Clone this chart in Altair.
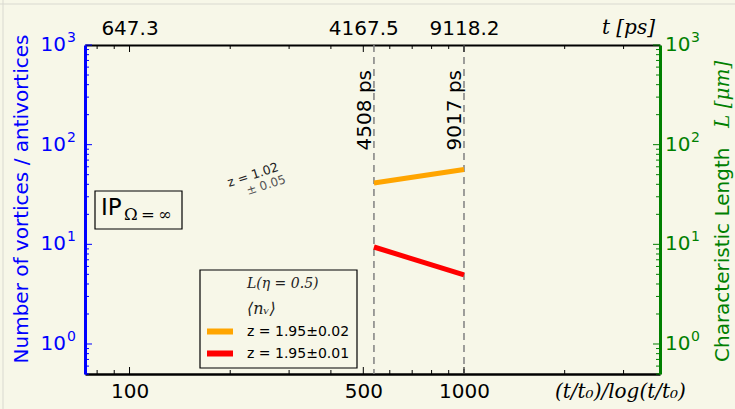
import altair as alt
import pandas as pd

# Scaled time (t/t0)/log(t/t0) of the two marked instants
t_marks = [538, 1000]
t_mark_labels = ["4508 ps", "9017 ps"]

# Power-law segments between the two instants
L_values = [41.3, 56.4]    # characteristic length L(eta=0.5)
n_values = [9.4, 4.93]     # mean vortex number <n_v>
series_names = ["z = 1.95±0.02", "z = 1.95±0.01"]
series_colors = ["#FFA500", "#FF0000"]

# Axis ticks
x_major = [100, 500, 1000]
x_major_labels = ["100", "500", "1000"]
x_top_labels = ["647.3", "4167.5", "9118.2"]
x_minor = [80, 90, 200, 300, 400, 600, 700, 800, 900, 2000, 3000]
y_major = [1, 10, 100, 1000]
y_exponents = ["0", "1", "2", "3"]
y_minor = [m * 10 ** k for k in (-1, 0, 1, 2) for m in range(2, 10) if m * 10 ** k >= 0.5]

X_DOMAIN = [73.6, 3855]
Y_DOMAIN = [0.5, 1000]
W, H = 575, 329
BG = "#F7F7E8"
BLUE = "#0000FF"
GREEN = "#008000"
SANS = "DejaVu Sans"
SERIF = "DejaVu Serif"

xs = alt.Scale(type="log", domain=X_DOMAIN, nice=False)
ys = alt.Scale(type="log", domain=Y_DOMAIN, nice=False)


def label_expr(values, labels):
    expr = "''"
    for v, lab in reversed(list(zip(values, labels))):
        expr = f"abs(datum.value - {v}) < {v} * 1e-6 ? '{lab}' : ({expr})"
    return expr


lines_df = pd.DataFrame({
    "t": t_marks + t_marks,
    "v": L_values + n_values,
    "series": [series_names[0]] * 2 + [series_names[1]] * 2,
})
marks_df = pd.DataFrame({"t": t_marks, "label": t_mark_labels})
ylab_df = pd.DataFrame({"v": y_major, "base": ["10"] * len(y_major), "exp": y_exponents})

common_axis = dict(ticks=False, grid=False, title=None, labelFontSize=20,
                   labelFont=SANS, labelOverlap=False, labelFlush=False)

lines = alt.Chart(lines_df).mark_line(strokeWidth=5, strokeCap="butt").encode(
    x=alt.X("t:Q", scale=xs, axis=alt.Axis(
        orient="bottom", values=x_major, labelExpr=label_expr(x_major, x_major_labels),
        domainColor="black", domainWidth=2.5, labelColor="black", labelPadding=7,
        **common_axis)),
    y=alt.Y("v:Q", scale=ys, axis=alt.Axis(
        orient="left", values=y_major, labels=False,
        domainColor=BLUE, domainWidth=3, ticks=False, grid=False, title=None)),
    color=alt.Color("series:N", scale=alt.Scale(domain=series_names, range=series_colors),
                    legend=None),
)

# Invisible layer carrying the top (physical time) and right (length) axes
twin = alt.Chart(lines_df).mark_point(opacity=0).encode(
    x=alt.X("t:Q", scale=xs, axis=alt.Axis(
        orient="top", values=x_major, labelExpr=label_expr(x_major, x_top_labels),
        domainColor="black", domainWidth=2, labelColor="black", labelPadding=7,
        **common_axis)),
    y=alt.Y("v:Q", scale=ys, axis=alt.Axis(
        orient="right", values=y_major, labels=False,
        domainColor=GREEN, domainWidth=3, ticks=False, grid=False, title=None)),
)


# Power-of-ten labels on both vertical axes: "10" plus a raised exponent
def ylabels(x_base, x_exp, align_base, color):
    base = alt.Chart(ylab_df).mark_text(
        font=SANS, fontSize=20, color=color, align=align_base, baseline="middle"
    ).encode(y=alt.Y("v:Q", scale=ys, axis=None), x=alt.value(x_base), text="base:N")
    exp = alt.Chart(ylab_df).mark_text(
        font=SANS, fontSize=14, color=color, align="left", baseline="middle", dy=-7
    ).encode(y=alt.Y("v:Q", scale=ys, axis=None), x=alt.value(x_exp), text="exp:N")
    return [base, exp]


yl = ylabels(-19, -18, "right", BLUE) + ylabels(W + 5, W + 31, "left", GREEN)


# Inward tick marks
def xticks(values, y0, y1, color="black"):
    return alt.Chart(pd.DataFrame({"v": values})).mark_rule(color=color, strokeWidth=1).encode(
        x=alt.X("v:Q", scale=xs, axis=None), y=alt.value(y0), y2=alt.value(y1))


def yticks(values, x0, x1, color):
    return alt.Chart(pd.DataFrame({"v": values})).mark_rule(color=color, strokeWidth=1).encode(
        y=alt.Y("v:Q", scale=ys, axis=None), x=alt.value(x0), x2=alt.value(x1))


ticks = [
    xticks(x_major, H, H - 7), xticks(x_minor, H, H - 4),
    xticks(x_major, 0, 7), xticks(x_minor, 0, 4),
    yticks(y_major, 0, 7, BLUE), yticks(y_minor, 0, 4, BLUE),
    yticks(y_major, W, W - 7, GREEN), yticks(y_minor, W, W - 4, GREEN),
]

dashed = alt.Chart(marks_df).mark_rule(color="#808080", strokeDash=[7, 5], strokeWidth=1.5).encode(
    x=alt.X("t:Q", scale=xs, axis=None))

mark_text = alt.Chart(marks_df).mark_text(
    angle=270, align="right", baseline="bottom", fontSize=20, font=SANS, color="black", dy=1
).encode(x=alt.X("t:Q", scale=xs, axis=None), y=alt.value(25), text="label:N")


def txt(s, x, y, **kw):
    return alt.Chart(pd.DataFrame({"s": [s]})).mark_text(**kw).encode(
        text="s:N", x=alt.value(x), y=alt.value(y))


def box(x0, y0, x1, y1):
    return alt.Chart(pd.DataFrame({"a": [0]})).mark_rect(
        fill=BG, stroke="black", strokeWidth=1.2).encode(
        x=alt.value(x0), x2=alt.value(x1), y=alt.value(y0), y2=alt.value(y1))


def swatch(color, x0, x1, y):
    return alt.Chart(pd.DataFrame({"a": [0]})).mark_rule(
        color=color, strokeWidth=6, strokeCap="butt").encode(
        x=alt.value(x0), x2=alt.value(x1), y=alt.value(y))


legend = [
    box(115, 225, 272, 323),
    txt("L(η = 0.5)", 162, 239, font=SERIF, fontStyle="italic", fontSize=14,
        align="left", baseline="middle", color="#222222"),
    txt("⟨nᵥ⟩", 162, 264, font=SERIF, fontStyle="italic", fontSize=16,
        align="left", baseline="middle", color="#222222"),
    swatch(series_colors[0], 122, 148, 286.5),
    swatch(series_colors[1], 122, 148, 308.5),
    txt(series_names[0], 162, 286.5, font=SANS, fontSize=14, align="left", baseline="middle"),
    txt(series_names[1], 162, 308.5, font=SANS, fontSize=14, align="left", baseline="middle"),
]

ip_box = [
    box(10, 146, 97, 184),
    txt("IP", 16, 170, font=SANS, fontSize=23, align="left", baseline="alphabetic"),
    txt("Ω\u2009=\u2009∞", 39, 175, font=SERIF, fontSize=16.5, align="left", baseline="alphabetic"),
]

fit_note = [
    txt("z = 1.02", 168, 130, font=SANS, fontSize=12.5, angle=342, color="#222222"),
    txt("± 0.05", 181, 140, font=SANS, fontSize=12, angle=342, color="#555555"),
]

titles = [
    txt("Number  of vortices / antivortices", -63, 154, font=SANS, fontSize=20,
        angle=270, color=BLUE, align="center", baseline="middle"),
    txt("Characteristic Length", 638, 317, font=SANS, fontSize=20, angle=270,
        color=GREEN, align="left", baseline="middle"),
    txt("L  [μm]", 638, 83, font=SERIF, fontStyle="italic", fontSize=20, angle=270,
        color=GREEN, align="left", baseline="middle"),
    txt("t [ps]", 570, -17, font=SERIF, fontStyle="italic", fontSize=20,
        align="right", baseline="middle"),
    txt("(t/t₀)/log(t/t₀)", 470, 347, font=SERIF, fontStyle="italic", fontSize=20,
        align="left", baseline="middle"),
]

frame = [
    alt.Chart(pd.DataFrame({"a": [0]})).mark_rule(color="#D9D9D0", strokeWidth=1).encode(
        x=alt.value(-82), y=alt.value(-45), y2=alt.value(H + 35)),
    alt.Chart(pd.DataFrame({"a": [0]})).mark_rule(color="#D9D9D0", strokeWidth=1).encode(
        x=alt.value(-85), x2=alt.value(W + 75), y=alt.value(-41)),
]

chart = alt.layer(
    *frame, dashed, mark_text, lines, twin, *yl, *ticks, *legend, *ip_box, *fit_note, *titles
).properties(
    width=W, height=H, background=BG,
    padding={"left": 85, "top": 45, "right": 75, "bottom": 35},
    autosize=alt.AutoSizeParams(type="none"),
).configure_view(stroke=None)

chart.save("out.html", embed_options={"renderer": "svg", "actions": False})
